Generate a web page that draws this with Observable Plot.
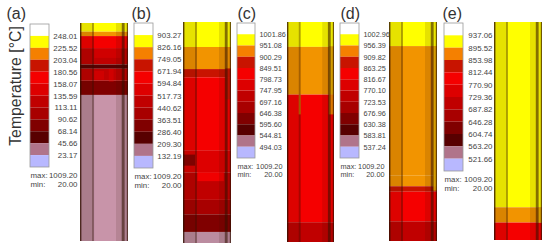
<!DOCTYPE html>
<html><head><meta charset="utf-8">
<style>html,body{margin:0;padding:0;background:#fff}svg{display:block}</style>
<script src="https://cdn.jsdelivr.net/npm/d3@7"></script>
<script src="https://cdn.jsdelivr.net/npm/@observablehq/plot@0.6"></script>
</head><body><div id="chart"></div>
<script>
const letters = ["(a)","(b)","(c)","(d)","(e)"];
const ticksA = ["248.01","225.52","203.04","180.56","158.07","135.59","113.11","90.62","68.14","45.66","23.17"];
const ticksB = ["903.27","826.16","749.05","671.94","594.84","517.73","440.62","363.51","286.40","209.30","132.19"];
const ticksC = ["1001.86","951.08","900.29","849.51","798.73","747.95","697.16","646.38","595.60","544.81","494.03"];
const ticksD = ["1002.96","956.39","909.82","863.25","816.67","770.10","723.53","676.96","630.38","583.81","537.24"];
const ticksE = ["937.06","895.52","853.98","812.44","770.90","729.36","687.82","646.28","604.74","563.20","521.66"];
const maxTemp = "1009.20", minTemp = "20.00";
const palette = ["#ffffff","#ffff00","#f58000","#c81400","#f50000","#dd0000","#c00000","#a80000","#800000","#580000","#b0748a","#b8b8ff"];
const columnPalette = ["#ffffff","#ffff00","#f29400","#c81400","#f50000","#dd0000","#c00000","#a80000","#800000","#580000","#bb8ca0","#e8a8c0","#e8b000"];
// column bands, top to bottom: [share of column height at band end, palette index]
const bandsA = [[4,1],[6,2],[11.5,4],[19,6],[21,9],[26.5,6],[33,8],[100,10]];
const bandsB = [[11.3,1],[21.3,2],[25,3],[58,4],[68,5],[80.5,6],[87,7],[95,8],[100,10]];
const bandsC = [[11.3,1],[33,2],[91,4],[100,6]];
const bandsD = [[11,1],[70,2],[75,2],[77.5,3],[91,4],[100,6]];
const bandsE = [[85,1],[92,2],[100,4]];
// local patches: [left %, right %, top %, bottom %, palette index]
const patchesA = [[30,85,8,16,4],[30,50,22,26,4],[60,70,21,27,4],[30,85,33,100,11]];
const patchesB = [[30,85,68,72,4],[88,100,21,35,3],[0,25,60,65,8]];
const patchesC = [[25,29,33,42,2],[89,100,33,42,2],[89,100,11,33,12]];
const patchesD = [[92,100,11,77,12]];
const patchesE = [[92,100,85,92,12]];
const allTicks=[ticksA,ticksB,ticksC,ticksD,ticksE], allBands=[bandsA,bandsB,bandsC,bandsD,bandsE], allPatches=[patchesA,patchesB,patchesC,patchesD,patchesE];
// layout
const L=[
 {tx:6,lx:30,lw:19,ly:24,lh:143,an:"end",ax:77,rx:77,fs:7.9,cx:80,cw:48,cy:23,ch:218},
 {tx:131,lx:134,lw:19,ly:23,lh:145,an:"end",ax:181,rx:181,fs:7.9,cx:183,cw:48,cy:22,ch:221},
 {tx:237,lx:237,lw:18,ly:23,lh:135,an:"start",ax:259,rx:282,fs:7.3,cx:287,cw:47,cy:22,ch:220},
 {tx:340,lx:340,lw:19,ly:23,lh:135,an:"start",ax:363,rx:384,fs:7.3,cx:389,cw:48,cy:22,ch:219},
 {tx:442,lx:444,lw:19,ly:23,lh:148,an:"end",ax:492,rx:492,fs:7.9,cx:494,cw:48,cy:22,ch:218}];
const marks=[];
const font="Liberation Sans, Arial";
L.forEach((p,i)=>{
  const textStyle={fontFamily:font,fill:"#444",fontSize:p.fs};
  const cell=p.lh/12;
  const cells=palette.map((c,k)=>({x1:p.lx,x2:p.lx+p.lw,y1:p.ly+k*cell,y2:p.ly+(k+1)*cell,c}));
  marks.push(Plot.rect(cells,{x1:"x1",x2:"x2",y1:"y1",y2:"y2",fill:"c"}));
  marks.push(Plot.rect([0],{x1:p.lx,x2:p.lx+p.lw,y1:p.ly,y2:p.ly+p.lh,fill:"none",stroke:"#999",strokeWidth:.8}));
  const t=allTicks[i].map((s,k)=>({s,x:p.ax,y:p.ly+(k+1)*cell}));
  marks.push(Plot.text(t,{x:"x",y:"y",text:"s",textAnchor:p.an,...textStyle}));
  const my=p.ly+p.lh+8;
  marks.push(Plot.text(["max:"],{x:p.lx,y:my,text:d=>d,textAnchor:"start",...textStyle}));
  marks.push(Plot.text(["min:"],{x:p.lx,y:my+8.5,text:d=>d,textAnchor:"start",...textStyle}));
  marks.push(Plot.text([maxTemp],{x:p.rx,y:my,text:d=>d,textAnchor:"end",...textStyle}));
  marks.push(Plot.text([minTemp],{x:p.rx,y:my+8.5,text:d=>d,textAnchor:"end",...textStyle}));
  marks.push(Plot.text([letters[i]],{x:p.tx,y:13,text:d=>d,textAnchor:"start",fontFamily:font,fill:"#333",fontSize:16}));
  let prev=0;
  const bands=allBands[i].map(([e,k])=>{const r={x1:p.cx,x2:p.cx+p.cw,y1:p.cy+prev/100*p.ch,y2:p.cy+e/100*p.ch,c:columnPalette[k]};prev=e;return r;});
  marks.push(Plot.rect(bands,{x1:"x1",x2:"x2",y1:"y1",y2:"y2",fill:"c"}));
  const pat=allPatches[i].map(([a,b,c,d,k])=>({x1:p.cx+a/100*p.cw,x2:p.cx+b/100*p.cw,y1:p.cy+c/100*p.ch,y2:p.cy+d/100*p.ch,c:columnPalette[k]}));
  marks.push(Plot.rect(pat,{x1:"x1",x2:"x2",y1:"y1",y2:"y2",fill:"c",fillOpacity:i==0?.3:.9}));
  const st=[[0,.03,.8],[.03,.25,.12],[.25,.29,.4],[.75,.87,.12],[.87,.93,.6],[.93,.975,.1],[.975,1,.7]].map(([a,b,o])=>({x1:p.cx+a*p.cw,x2:p.cx+b*p.cw,y1:p.cy,y2:p.cy+p.ch,o}));
  marks.push(Plot.rect(st,{x1:"x1",x2:"x2",y1:"y1",y2:"y2",fill:"#301000",fillOpacity:"o"}));
});
marks.push(Plot.text(["Temperature [°C]"],{x:15,y:85.5,text:d=>d,rotate:-90,fontFamily:font,fill:"#333",fontSize:15.8}));
document.getElementById("chart").append(Plot.plot({width:550,height:250,margin:0,
 x:{domain:[0,550],range:[0,550],axis:null},y:{domain:[0,250],range:[0,250],axis:null},marks}));
</script></body></html>
